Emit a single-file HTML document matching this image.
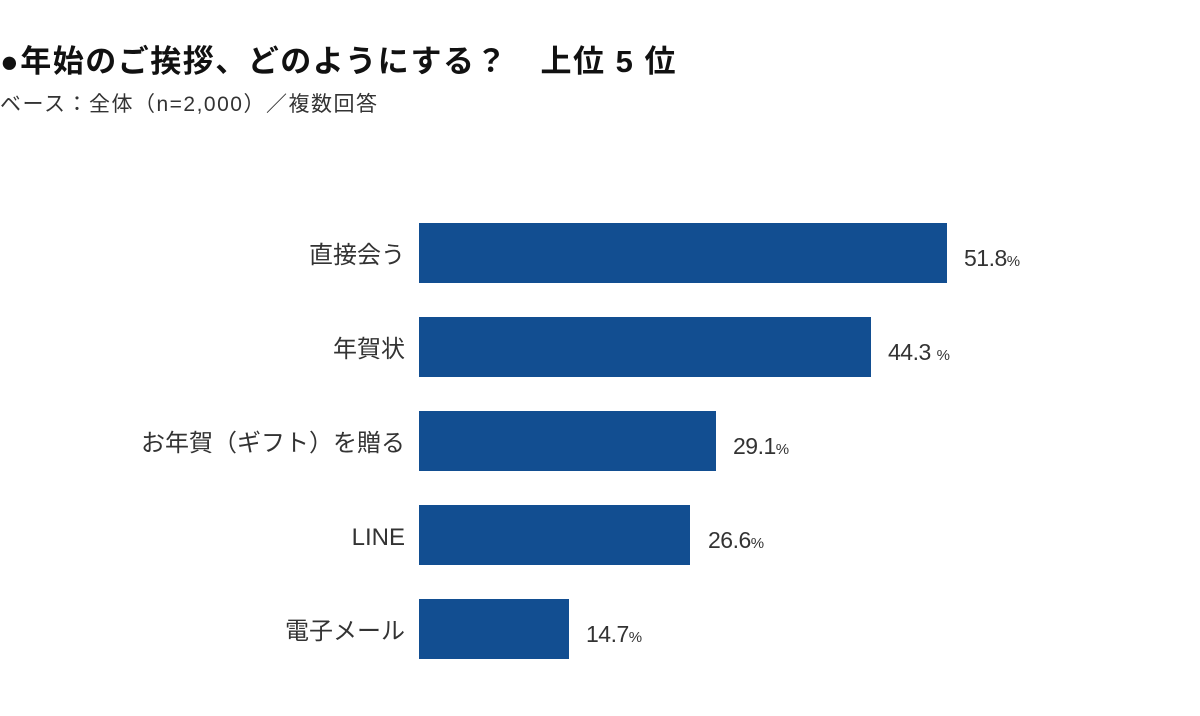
<!DOCTYPE html>
<html><head><meta charset="utf-8"><style>
body{margin:0;width:1200px;height:716px;background:#fff;position:relative;overflow:hidden;font-family:"Liberation Sans","Noto Sans CJK JP",sans-serif;color:#222}
.t{position:absolute;left:0;top:36px;font-size:31px;font-weight:bold;color:#111;white-space:nowrap;letter-spacing:1.5px}
.s{position:absolute;left:0;top:88px;font-size:21px;color:#333;white-space:nowrap;letter-spacing:1.5px}
.bar{position:absolute;left:419px;height:60px;background:#124e91}
.lab{position:absolute;right:795px;font-size:24px;color:#333;white-space:nowrap;line-height:60px;top:3px}
.val{position:absolute;font-size:23px;color:#333;white-space:nowrap;line-height:60px;letter-spacing:-0.5px}
.val small{font-size:15px}
</style></head><body>
<div class="t">●年始のご挨拶、どのようにする？　上位 5 位</div>
<div class="s">ベース：全体（n=2,000）／複数回答</div>

<div class="bar" style="top:223px;width:528px"></div>
<div class="lab" style="top:226px">直接会う</div>
<div class="val" style="top:228px;left:964px">51.8<small>%</small></div>

<div class="bar" style="top:317px;width:452px"></div>
<div class="lab" style="top:320px">年賀状</div>
<div class="val" style="top:322px;left:888px">44.3 <small>%</small></div>

<div class="bar" style="top:411px;width:297px"></div>
<div class="lab" style="top:414px">お年賀（ギフト）を贈る</div>
<div class="val" style="top:416px;left:733px">29.1<small>%</small></div>

<div class="bar" style="top:505px;width:271px"></div>
<div class="lab" style="top:508px">LINE</div>
<div class="val" style="top:510px;left:708px">26.6<small>%</small></div>

<div class="bar" style="top:599px;width:150px"></div>
<div class="lab" style="top:602px">電子メール</div>
<div class="val" style="top:604px;left:586px">14.7<small>%</small></div>
</body></html>
